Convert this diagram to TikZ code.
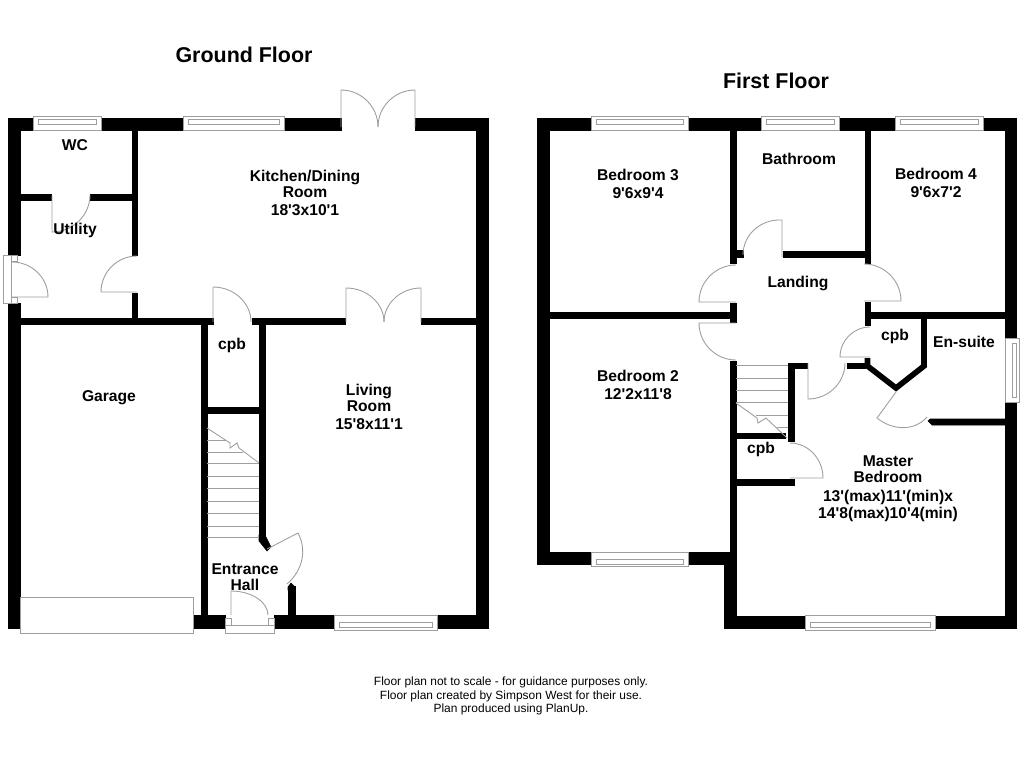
\documentclass[tikz,border=0pt]{standalone}
\usepackage{fontspec}
\setmainfont{Liberation Sans}[Ligatures=TeXOff]
\usepackage{xcolor}
\usetikzlibrary{calc}
\definecolor{wallblack}{rgb}{0,0,0}
\definecolor{fitting}{rgb}{0.62,0.62,0.62}
\newcommand{\doorswing}[3]{\draw[doorline] (#1) -- (#2) .. controls ($(#2)+0.55*(#3)-0.55*(#1)$) and ($(#3)+0.55*(#2)-0.55*(#1)$) .. (#3);}
\begin{document}
\begin{tikzpicture}[x=0.02cm, y=-0.02cm,
    wall/.style={fill=wallblack, draw=wallblack, line width=0.3pt},
    wallline/.style={draw=wallblack, line width=3.2pt, line join=miter},
    doorline/.style={draw=fitting, line width=0.5pt},
    framebox/.style={draw=fitting, line width=0.5pt, fill=white},
    roomlabel/.style={align=center, font=\fontsize{8.9}{9.0}\selectfont\bfseries, inner sep=0pt},
    title/.style={font=\fontsize{12.2}{14}\selectfont\bfseries, inner sep=0pt},
    footnote/.style={align=center, font=\fontsize{6.8}{7.6}\selectfont, inner sep=0pt}
]
\useasboundingbox (0,0) rectangle (1024,768);
\fill[white] (0,0) rectangle (1024,768);

% ground floor walls
\foreach \xa/\ya/\xb/\yb in {8/118/20/255, 8/303/20/628, 8/118/33/130, 101/118/183/130, 284/118/341/130,
    415/118/488/130, 476/118/488/628, 193/615/225/628, 274/615/333/628, 437/615/488/628,
    132/130/137/255, 132/293/137/320, 20/194/51/200, 90/194/132/200, 20/318/213/324,
    252/318/345/324, 421/318/476/324, 201/318/207/615, 259/318/265/537, 201/407/265/413, 288/586/295/615}
    \fill[wall] (\xa,\yb) rectangle (\xb,\ya);
\fill[wall] (259,535) -- (265,535) -- (271,547) -- (267,551) -- (259,541) -- cycle;
\fill[wall] (288,587) -- (291,583) -- (295,587) -- (295,590) -- (288,590) -- cycle;

% first floor walls
\foreach \xa/\ya/\xb/\yb in {537/118/549/564, 537/118/591/130, 688/118/761/130, 839/118/895/130,
    983/118/1016/130, 1005/118/1016/338, 1005/403/1016/628, 724/616/805/628, 935/616/1016/628,
    537/552/591/564, 688/552/736/564, 724/552/736/628, 730/130/736/263, 730/303/736/322,
    730/361/736/552, 549/312/730/318, 736/250/743/257, 783/251/865/257, 865/130/870/263,
    865/302/870/325, 870/312/1005/318, 847/363/865/368, 788/363/807/368, 788/363/794/441,
    736/433/785/438, 736/479/794/485}
    \fill[wall] (\xa,\yb) rectangle (\xb,\ya);
\fill[wall] (930,419) -- (1005,419) -- (1005,425) -- (932,425) -- (928,421) -- cycle;
\draw[wallline] (867.5,358) -- (867.5,366) -- (896,388) -- (924,366) -- (924,318);

% windows
\foreach \xa/\xb in {33/101, 183/284, 591/688, 761/839, 895/983} {
    \draw[framebox] (\xa,116) rectangle (\xb,130);
    \draw[doorline] (\xa+5,119) rectangle (\xb-5,124);
}
\foreach \xa/\xb in {334/437, 805/935} {
    \draw[framebox] (\xa,615) rectangle (\xb,630);
    \draw[doorline] (\xa+5,622) rectangle (\xb-5,627);
}
\draw[framebox] (591,552) rectangle (688,566);
\draw[doorline] (596,559) rectangle (683,564);
\draw[framebox] (1005,338) rectangle (1019,402);
\draw[doorline] (1012,343) rectangle (1016,397);

% ground floor doors
\doorswing{341,127}{341,90}{378,127}
\doorswing{415,127}{415,90}{378,127}
\doorswing{346,322}{346,288}{384,322}
\doorswing{421,322}{421,288}{384,322}
\doorswing{52,195}{52,232}{90,195}
\doorswing{137,292}{101,292}{137,256}
\doorswing{12,297}{48,297}{12,262}
\doorswing{213,322}{213,287}{251,322}
\doorswing{231,615}{231,591}{268,615}
\draw[doorline] (267,549) -- (298,533) .. controls (307,550) and (303,570) .. (287,584);
\draw[framebox] (3,255) rectangle (11,303);
\draw[doorline] (11,255) rectangle (17,261);
\draw[doorline] (11,297) rectangle (17,303);
\draw[framebox] (225,625) rectangle (274,633);
\draw[doorline] (225,618) rectangle (231,625);
\draw[doorline] (268,618) rectangle (274,625);
\draw[framebox] (20,597) rectangle (193,633);

% first floor doors
\doorswing{782,257}{782,220}{743,255}
\doorswing{736,302}{699,302}{736,265}
\doorswing{736,323}{699,323}{736,360}
\doorswing{864,301}{901,301}{864,264}
\doorswing{870,357}{840,357}{870,327}
\doorswing{808,363}{808,399}{845,363}
\doorswing{790,478}{823,478}{790,443}
\draw[doorline] (896,392) -- (877,418) .. controls (893,431) and (915,431) .. (927,417);

% stairs
\draw[doorline] (207,440) -- (226,440);
\draw[doorline] (207,452) -- (243,452);
\foreach \ya in {463,476,488,501,513,526,537}
    \draw[doorline] (207,\ya) -- (259,\ya);
\draw[doorline] (207,428) -- (230,443) -- (230,448) -- (237,443) -- (239,448) -- (259,463);
\foreach \ya in {365,378,390,402}
    \draw[doorline] (736,\ya) -- (788,\ya);
\draw[doorline] (756,415) -- (788,415);
\draw[doorline] (777,427) -- (788,427);
\draw[doorline] (736,403) -- (757,418) -- (758,423) -- (766,418) -- (787,438);

% labels
\node[title] (groundtitle) at (244,55) {Ground Floor};
\node[title] (firsttitle) at (776,81) {First Floor};
\node[roomlabel] (wc) at (75,145) {WC};
\node[roomlabel] (utility) at (75,230) {Utility};
\node[roomlabel] (kitchen) at (305,193) {Kitchen/Dining\\Room\\[1pt]18'3x10'1};
\node[roomlabel] (garage) at (109,398) {Garage};
\node[roomlabel] (cpbground) at (232,345) {cpb};
\node[roomlabel] (living) at (369,407) {Living\\Room\\[1.5pt]15'8x11'1};
\node[roomlabel] (hall) at (245,577) {Entrance\\Hall};
\node[roomlabel] (bedthree) at (638,184) {Bedroom 3\\[1pt]9'6x9'4};
\node[roomlabel] (bathroom) at (799,159) {Bathroom};
\node[roomlabel] (bedfour) at (936,183) {Bedroom 4\\[1pt]9'6x7'2};
\node[roomlabel] (landing) at (798,283) {Landing};
\node[roomlabel] (cpbensuite) at (895,336) {cpb};
\node[roomlabel] (ensuite) at (964,342) {En-suite};
\node[roomlabel] (bedtwo) at (638,385) {Bedroom 2\\[1pt]12'2x11'8};
\node[roomlabel] (cpbstairs) at (761,449) {cpb};
\node[roomlabel] (master) at (888,489) {Master\\Bedroom\\[1.7pt]13'(max)11'(min)x\\[1pt]14'8(max)10'4(min)};
\node[footnote] (disclaimer) at (511,696) {Floor plan not to scale - for guidance purposes only.\\Floor plan created by Simpson West for their use.\\Plan produced using PlanUp.};
\end{tikzpicture}
\end{document}
